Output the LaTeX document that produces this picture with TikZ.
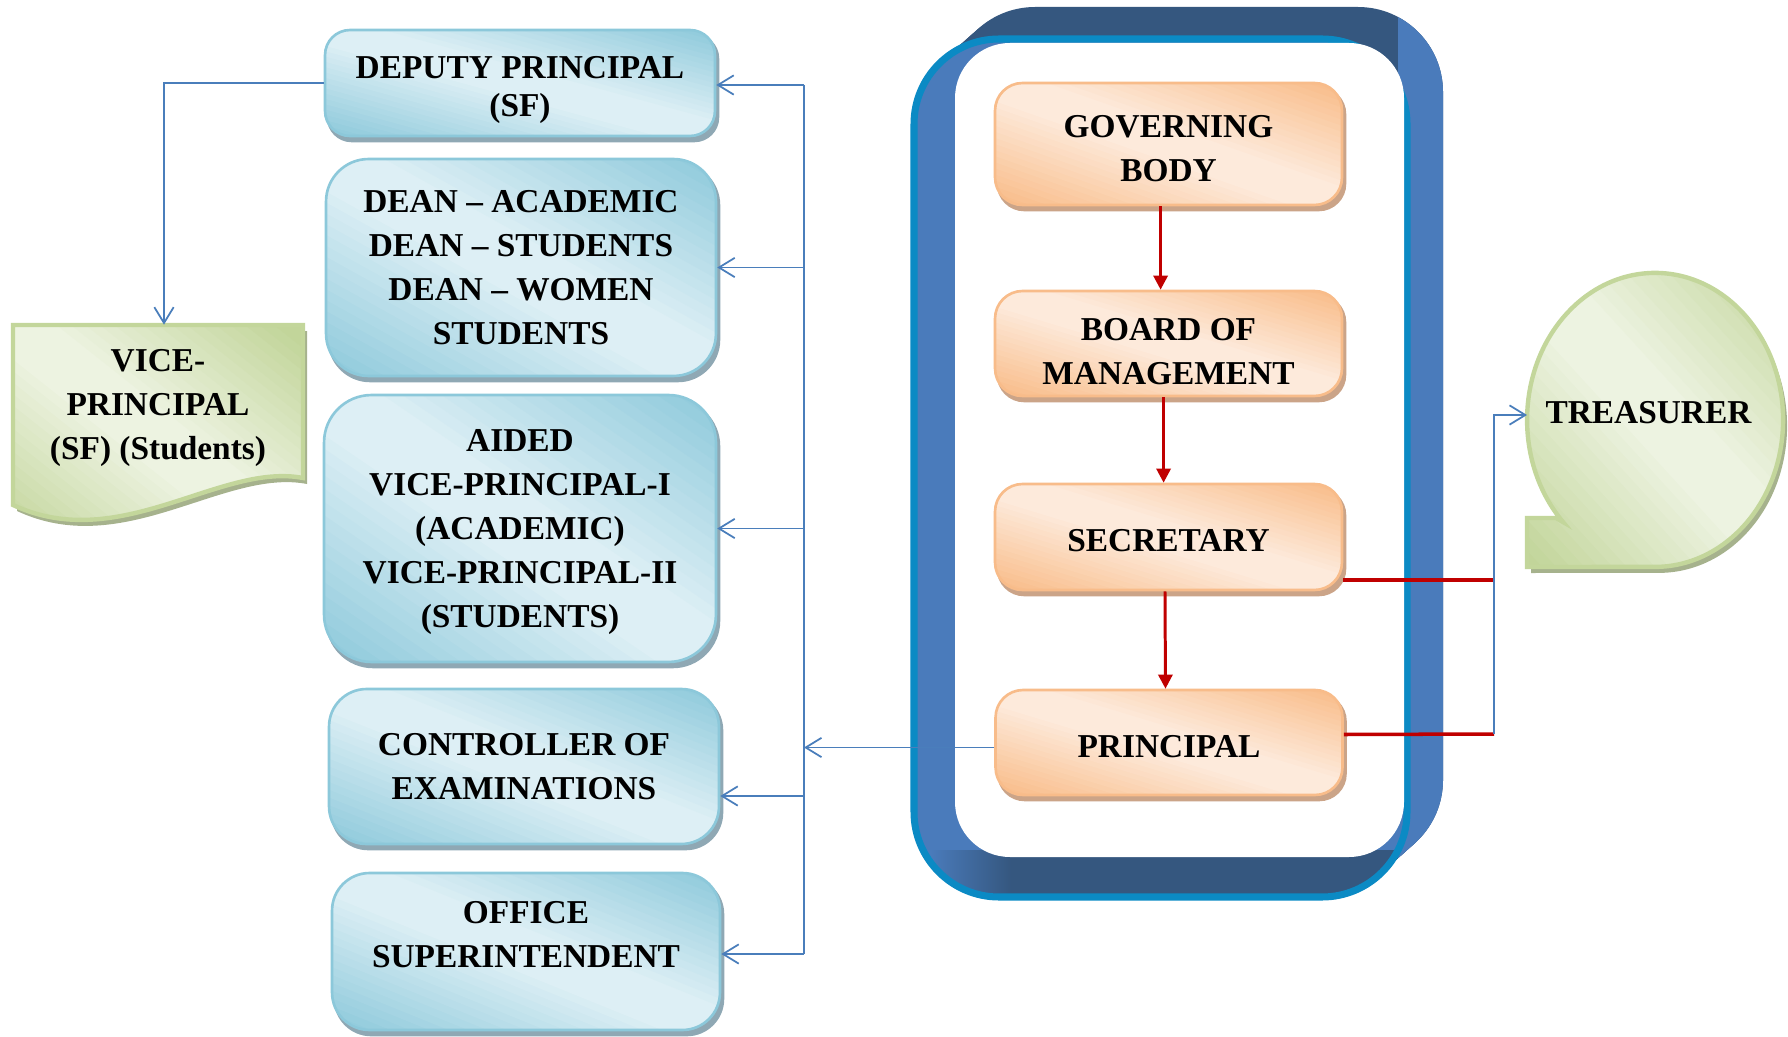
\documentclass[tikz,border=0pt]{standalone}
\usepackage{fontspec}
\setmainfont{Liberation Serif}
\usetikzlibrary{arrows.meta,calc}

\definecolor{bLight}{HTML}{DDEFF5}
\definecolor{bDark}{HTML}{93CCDD}
\definecolor{bBorder}{HTML}{8CC8DA}
\definecolor{bShadow}{HTML}{8FA8B4}
\definecolor{oLight}{HTML}{FDEADB}
\definecolor{oDark}{HTML}{F9BF8E}
\definecolor{oBorder}{HTML}{F8BC8A}
\definecolor{oShadow}{HTML}{CBA488}
\definecolor{gLight}{HTML}{EDF3E1}
\definecolor{gDark}{HTML}{C2D59A}
\definecolor{gBorder}{HTML}{C3D69B}
\definecolor{gShadow}{HTML}{A6B28D}
\definecolor{frMid}{HTML}{4A7BBB}
\definecolor{frDark}{HTML}{35577F}
\definecolor{frCyan}{HTML}{0B8AC4}
\definecolor{lnBlue}{HTML}{4A7EBB}
\definecolor{lnRed}{HTML}{C00000}

\pgfdeclarelayer{bottomlayer}
\pgfdeclarelayer{shadowlayer}
\pgfsetlayers{bottomlayer,shadowlayer,main}

% diagonal gradient: light along the top-left/bottom-right diagonal,
% dark towards the bottom-left and top-right corners
\newcommand{\DiagFill}[2]{%
  \coordinate (dgsw) at (path picture bounding box.south west);
  \coordinate (dgse) at (path picture bounding box.south east);
  \coordinate (dgnw) at (path picture bounding box.north west);
  \foreach \k in {0,...,39}{%
    \pgfmathsetmacro{\dgsa}{\k/20}%
    \pgfmathsetmacro{\dgsb}{(\k+1)/20+0.012}%
    \pgfmathsetmacro{\dgfr}{100*max(0,min(1,(abs((\k+0.5)/20-1)-0.12)/0.8))}%
    \fill[#2!\dgfr!#1, sharp corners] ($(dgsw)!\dgsa!(dgse)$) -- ($(dgsw)!\dgsb!(dgse)$)
      -- ($(dgsw)!\dgsb!(dgnw)$) -- ($(dgsw)!\dgsa!(dgnw)$) -- cycle;
  }%
}
\newcommand{\boxshadow}[3]{%
  \fill[#2, rounded corners=#3] ($(#1.south west)+(3,5)$) rectangle ($(#1.north east)+(3,5)$);}
\newcommand{\tpad}[1]{\rule{0pt}{#1}}

\tikzset{
  lbl/.style={font=\fontsize{19}{25}\selectfont\bfseries, align=center, inner sep=0pt},
  bluebox/.style={lbl, draw=bBorder, line width=1.5pt, path picture={\DiagFill{bLight}{bDark}}},
  orangebox/.style={lbl, draw=oBorder, line width=1.5pt, path picture={\DiagFill{oLight}{oDark}},
    rounded corners=0.55cm, minimum width=6.94cm},
  conn/.style={draw=lnBlue, line width=1pt},
  connarrow/.style={conn, -{Straight Barb[length=9pt,width=11pt]}},
  redarrow/.style={draw=lnRed, line width=1.7pt, -{Triangle[length=8pt,width=8pt]}},
  redline/.style={draw=lnRed, line width=2pt},
  frameround/.style={rounded corners=1.7cm}
}

\begin{document}
\begin{tikzpicture}[x=0.02cm, y=-0.02cm]
\useasboundingbox (0,0) rectangle (1788,1037);

% ---------- big blue frame ----------
\begin{pgfonlayer}{bottomlayer}
\foreach \t in {0,0.1,0.2,0.3,0.4,0.5,0.6,0.7,0.8,0.9,1}{
  \fill[frDark, frameround] ({914+36*\t},{39-32*\t}) rectangle ({1407+36*\t},{897-32*\t});
}
\begin{scope}
  \clip (1398,0) rectangle (1470,1037);
  \foreach \t in {0,0.1,0.2,0.3,0.4,0.5,0.6,0.7,0.8,0.9,1}{
    \fill[frMid, frameround] ({914+36*\t},{39-32*\t}) rectangle ({1407+36*\t},{897-32*\t});
  }
\end{scope}
\fill[frMid, frameround] (914,39) rectangle (1407,897);
\begin{scope}
  \clip[frameround] (914,39) rectangle (1407,897);
  \fill[frDark] (1010,850) rectangle (1400,900);
  \shade[left color=frMid, right color=frDark] (930,850) rectangle (1011,900);
\end{scope}
\draw[frCyan, line width=4pt, frameround] (914,39) rectangle (1407,897);
\fill[white, rounded corners=1.1cm] (955,43) rectangle (1404,857);
\end{pgfonlayer}

% ---------- orange chain ----------
\node[orangebox, minimum height=2.44cm] (gb) at (1168.5,144) {\tpad{17.6pt}GOVERNING\\BODY};
\node[orangebox, minimum height=2.1cm] (board) at (1168.5,343.5) {\tpad{21.4pt}BOARD OF\\MANAGEMENT};
\node[orangebox, minimum height=2.12cm] (sec) at (1168.5,537) {\tpad{16.4pt}SECRETARY};
\node[orangebox, minimum height=2.1cm] (prin) at (1169,742.5) {\tpad{17.6pt}PRINCIPAL};

\draw[redarrow] ([xshift=-4.5pt]gb.south) -- ([xshift=-4.5pt]board.north);
\draw[redarrow] ([xshift=-2.8pt]board.south) -- ([xshift=-2.8pt]sec.north);
\draw[redarrow] ([xshift=-2pt]sec.south) -- ([xshift=-2pt]prin.north);

% ---------- blue boxes ----------
\node[bluebox, rounded corners=0.5cm, minimum width=7.8cm, minimum height=2.12cm,
  font=\fontsize{19}{21.5}\selectfont\bfseries] (dep) at (520,83) {\tpad{20.5pt}DEPUTY PRINCIPAL\\(SF)};
\node[bluebox, rounded corners=0.85cm, minimum width=7.8cm, minimum height=4.34cm] (dean) at (521,267.5)
  {DEAN – ACADEMIC\\DEAN – STUDENTS\\DEAN – WOMEN\\STUDENTS};
\node[bluebox, rounded corners=0.95cm, minimum width=7.84cm, minimum height=5.34cm] (aided) at (520,528.5)
  {\tpad{16.4pt}AIDED\\VICE-PRINCIPAL-I\\(ACADEMIC)\\VICE-PRINCIPAL-II\\(STUDENTS)};
\node[bluebox, rounded corners=0.75cm, minimum width=7.8cm, minimum height=3.1cm] (ctrl) at (524,766.5)
  {CONTROLLER OF\\EXAMINATIONS};
\node[bluebox, rounded corners=0.75cm, minimum width=7.76cm, minimum height=3.14cm] (office) at (526,951.5)
  {OFFICE\\SUPERINTENDENT\\[-5.8pt]\mbox{}};

% ---------- shadows of the boxes ----------
\begin{pgfonlayer}{shadowlayer}
  \boxshadow{gb}{oShadow}{0.55cm}
  \boxshadow{board}{oShadow}{0.55cm}
  \boxshadow{sec}{oShadow}{0.55cm}
  \boxshadow{prin}{oShadow}{0.55cm}
  \boxshadow{dep}{bShadow}{0.5cm}
  \boxshadow{dean}{bShadow}{0.85cm}
  \boxshadow{aided}{bShadow}{0.95cm}
  \boxshadow{ctrl}{bShadow}{0.75cm}
  \boxshadow{office}{bShadow}{0.75cm}
\end{pgfonlayer}

% ---------- vice-principal document shape ----------
\fill[gShadow] (17,331) -- (307,331) -- (307,484) .. controls (224,468) and (124,561) .. (17,511) -- cycle;
\path[draw=gBorder, line width=2.5pt, path picture={\DiagFill{gLight}{gDark}}]
  (13,325) -- (303,325) -- (303,478) .. controls (220,462) and (120,555) .. (13,505) -- cycle;
\node[lbl, minimum width=5.8cm, minimum height=3.32cm] (vice) at (158,408) {VICE-\\PRINCIPAL\\(SF) (Students)};

% ---------- treasurer callout ----------
\fill[gShadow] (1567,528) arc[start angle=136, end angle=450, x radius=128, y radius=147]
  -- (1531,573) -- (1531,524) -- (1560,524) -- cycle;
\path[draw=gBorder, line width=2.5pt, path picture={\DiagFill{gLight}{gDark}}]
  (1563,522) arc[start angle=136, end angle=450, x radius=128, y radius=147]
  -- (1527,567) -- (1527,518) -- (1556,518) -- cycle;
\node[lbl] (treas) at (1648.5,413) {TREASURER};

% ---------- connectors ----------
\coordinate (busT) at (804,85);
\coordinate (busB) at (804,954);
\coordinate (ctrlIn) at (804,796);
\coordinate (pw) at ($(prin.west)+(0,5)$);
\coordinate (ts) at (1494,580);
\coordinate (tj) at (1494,734);
\coordinate (tin) at (1527,415);

\draw[conn] (busT) -- (busB);
\draw[connarrow] (busT) -- (dep.east |- busT);
\draw[connarrow] (busT |- dean.east) -- (dean.east);
\draw[connarrow] (busT |- aided.east) -- (aided.east);
\draw[connarrow] (ctrlIn) -- (ctrl.east |- ctrlIn);
\draw[connarrow] (busB) -- (office.east |- busB);
\draw[connarrow] (pw) -- (busT |- pw);
\draw[connarrow] (dep.west) -| ($(vice.north)+(6,0)$);

\draw[redline] ($(sec.east)+(0,43)$) -- (ts);
\draw[redline] ($(prin.east)+(0,-8)$) -- (tj);
\draw[connarrow] (tj) |- (tin);
\end{tikzpicture}
\end{document}
